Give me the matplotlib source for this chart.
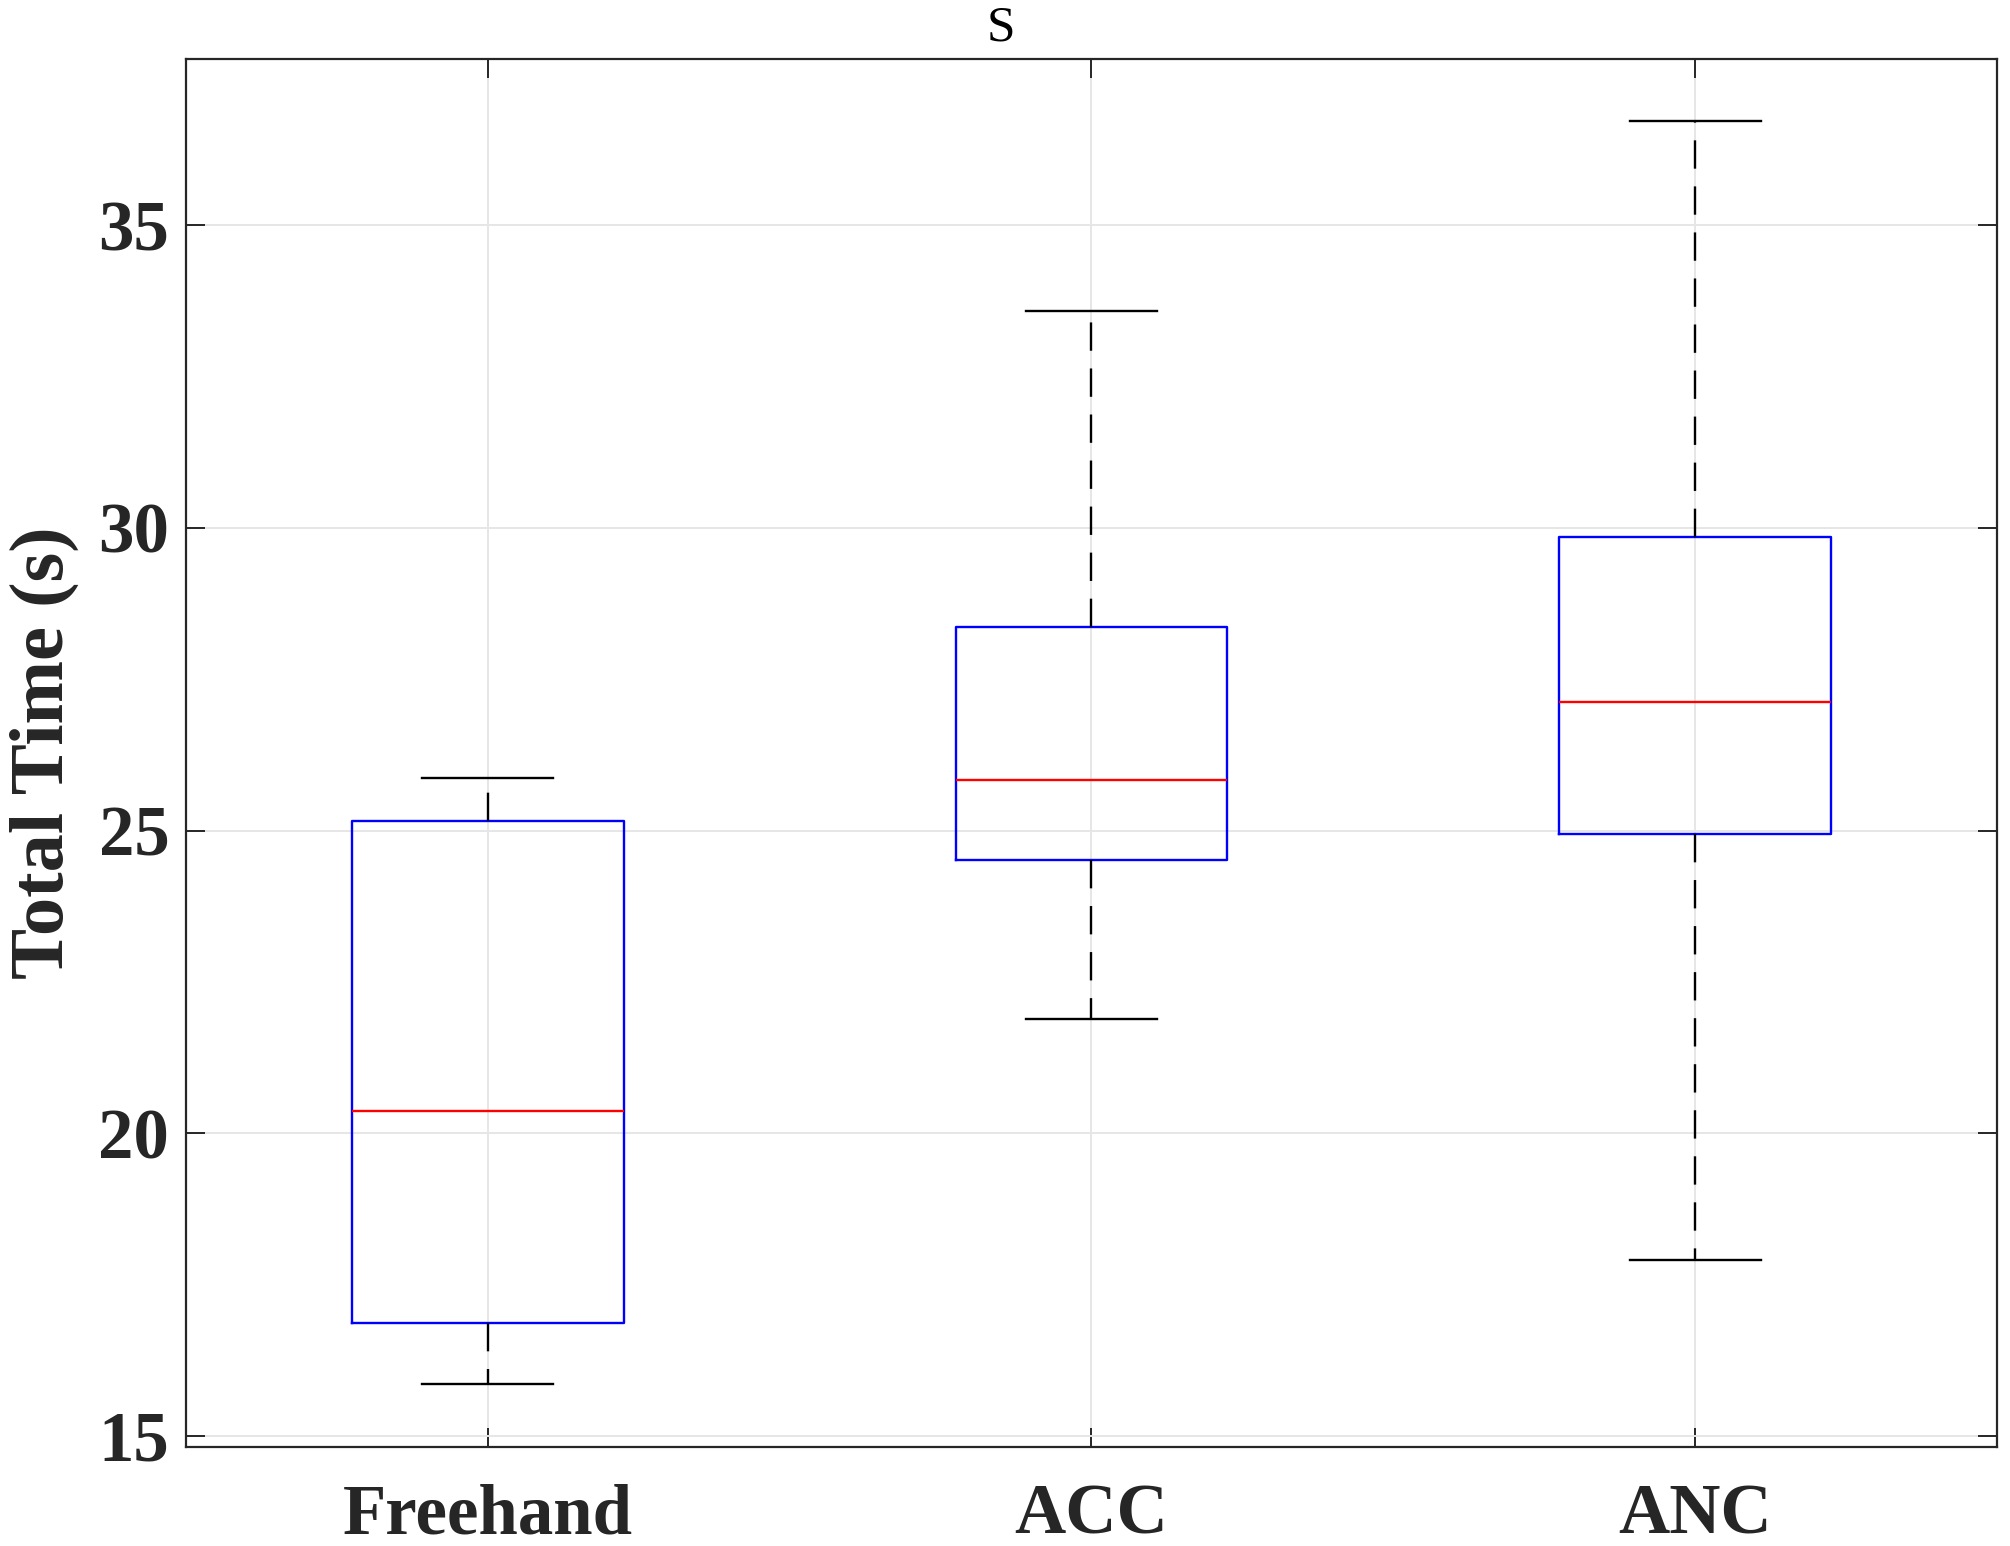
import matplotlib
matplotlib.use("Agg")
import matplotlib.pyplot as plt

categories = ["Freehand", "ACC", "ANC"]
whisker_low = [15.85, 21.89, 17.90]
q1 = [16.86, 24.51, 24.94]
median = [20.36, 25.83, 27.12]
q3 = [25.15, 28.37, 29.85]
whisker_high = [25.87, 33.58, 36.72]
yticks = [15, 20, 25, 30, 35]

plt.rcParams['font.family'] = ['Liberation Serif', 'DejaVu Serif']
txt = '#262626'

fig = plt.figure(figsize=(20.10, 15.46), dpi=100)
ax = fig.add_axes([0.0925, 0.064, 0.901, 0.8978])

stats = []
for i, c in enumerate(categories):
    stats.append(dict(label=c, whislo=whisker_low[i], q1=q1[i], med=median[i],
                      q3=q3[i], whishi=whisker_high[i], fliers=[]))

ax.bxp(stats, positions=[1, 2, 3], widths=0.45, showfliers=False,
       boxprops=dict(color='#0000ff', linewidth=1.7),
       medianprops=dict(color='#ff0000', linewidth=1.7),
       whiskerprops=dict(color='black', linewidth=1.7, linestyle=(0, (12, 7.5))),
       capprops=dict(color='black', linewidth=1.7),
       capwidths=0.217)

ax.set_xlim(0.5, 3.5)
ax.set_ylim(14.81, 37.75)
ax.set_yticks(yticks)
ax.set_xticks([1, 2, 3])
ax.set_xticklabels(categories)
ax.grid(True, color='#e6e6e6', linewidth=1.4)
ax.set_axisbelow(True)
ax.tick_params(direction='in', length=14, width=1.4, top=True, right=True,
               colors=txt, labelsize=51, pad=12)
ax.tick_params(axis='x', pad=26)
for lab in ax.get_xticklabels() + ax.get_yticklabels():
    lab.set_fontweight('bold')
for s in ax.spines.values():
    s.set_color(txt)
    s.set_linewidth(1.6)
ax.set_ylabel('Total Time (s)', fontsize=55, fontweight='bold', color=txt, labelpad=14)
ax.text(0.450, 1.0 + 0.022, 'S', transform=ax.transAxes, fontsize=37,
        color='black', ha='center', va='center')

fig.savefig('out.png', dpi=100)
